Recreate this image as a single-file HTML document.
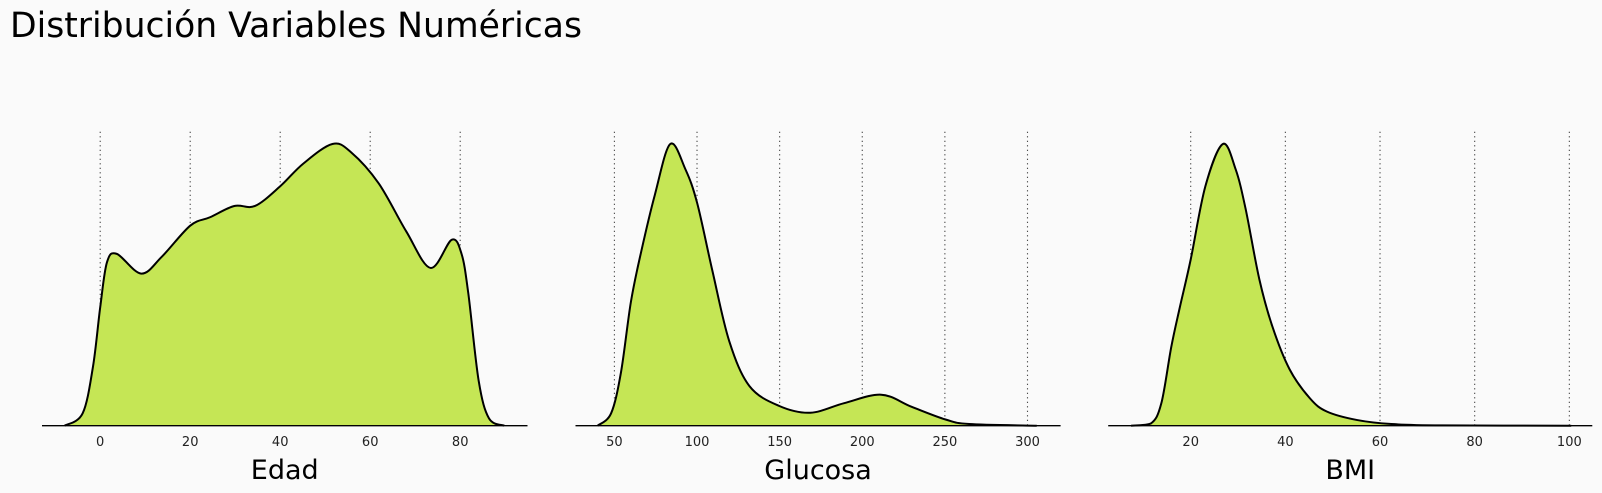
<!DOCTYPE html>
<html><head><meta charset="utf-8">
<style>
html,body{margin:0;padding:0;background:#fafafa;}
svg{display:block;font-family:"Liberation Sans","DejaVu Sans",sans-serif;}
</style></head>
<body>
<svg id="chart" width="1602" height="493" viewBox="0 0 1602 493">
<rect width="1602" height="493" fill="#fafafa"/>
<text x="10" y="37" font-size="34.6" fill="#000" font-family="DejaVu Sans, Liberation Sans, sans-serif">Distribución Variables Numéricas</text>
</svg>
<script>
// Edad
const edadX = [-7.9,-3.9,-1.6,0,1.5,3.7,9.1,13.7,20,24.4,29.8,34.4,40,45.1,51.6,55.8,61.9,68,73.4,78.1,80.3,81.8,84.1,86.4,89.8];
const edadY = [0,0.044,0.21,0.42,0.58,0.61,0.54,0.60,0.71,0.74,0.78,0.78,0.85,0.93,1.0,0.97,0.86,0.69,0.56,0.66,0.61,0.47,0.16,0.026,0];
const edadTicks = [0,20,40,60,80];
// Glucosa
const gluX = [39.8,48,54,60,66.3,74.5,83.8,93,100.1,109.3,119.5,131.8,149.8,168.6,189,211.5,229.9,250.4,264.7,305.6];
const gluY = [0,0.044,0.19,0.44,0.62,0.82,1.0,0.91,0.79,0.55,0.30,0.14,0.07,0.046,0.08,0.11,0.067,0.022,0.006,0];
const gluTicks = [50,100,150,200,250,300];
// BMI
const bmiX = [7.4,11.6,13.8,15.9,17.7,20,23.1,26.8,29.5,31.6,34.5,37.3,40.9,45.2,48.8,55.2,62.4,73,100.4];
const bmiY = [0,0.008,0.08,0.28,0.42,0.59,0.85,1.0,0.91,0.77,0.52,0.35,0.20,0.097,0.05,0.02,0.006,0.001,0];
const bmiTicks = [20,40,60,80,100];

const NS = "http://www.w3.org/2000/svg";
const svg = document.getElementById('chart');
const baseY = 425.7, topY = 144, gridTop = 131.7;

function mk(tag, attrs){const e=document.createElementNS(NS,tag);for(const k in attrs)e.setAttribute(k,attrs[k]);return e;}

function smoothPath(pts){
  let d = "M"+pts[0][0]+","+pts[0][1];
  for(let i=0;i<pts.length-1;i++){
    const p0=pts[Math.max(0,i-1)],p1=pts[i],p2=pts[i+1],p3=pts[Math.min(pts.length-1,i+2)];
    let c1y=p1[1]+(p2[1]-p0[1])/6, c2y=p2[1]-(p3[1]-p1[1])/6;
    c1y=Math.min(c1y,baseY); c2y=Math.min(c2y,baseY);
    d+=" C"+(p1[0]+(p2[0]-p0[0])/6)+","+c1y+" "+(p2[0]-(p3[0]-p1[0])/6)+","+c2y+" "+p2[0]+","+p2[1];
  }
  return d;
}

function panel(name, xs, ys, ticks, x0px, v0, pxPerUnit, axL, axR, label){
  const sx = v => x0px + (v - v0)*pxPerUnit;
  const sy = v => baseY - v*(baseY-topY);
  const g = mk('g',{});
  
  
  svg.appendChild(g);
  ticks.forEach(t=>{
    const l = mk('line',{x1:sx(t),x2:sx(t),y1:gridTop,y2:baseY,stroke:'#333','stroke-width':1.1,'stroke-dasharray':'1.2,3.3'});
    
    
    g.appendChild(l);
  });
  const pts = xs.map((x,i)=>[sx(x), sy(ys[i])]);
  const line = smoothPath(pts);
  const area = mk('path',{d: line+" L"+pts[pts.length-1][0]+","+baseY+" L"+pts[0][0]+","+baseY+" Z", fill:'#c5e655', stroke:'none'});
  
  
  g.appendChild(area);
  const stroke = mk('path',{d: line, fill:'none', stroke:'#000','stroke-width':2});
  
  
  g.appendChild(stroke);
  const ax = mk('line',{x1:axL,x2:axR,y1:baseY,y2:baseY,stroke:'#000','stroke-width':1.3});
  
  
  g.appendChild(ax);
  ticks.forEach(t=>{
    const tx = mk('text',{x:sx(t),y:446,'font-size':13,'text-anchor':'middle',fill:'#222','font-family':'DejaVu Sans, Liberation Sans, sans-serif'});
    tx.textContent = t;
    
    
    g.appendChild(tx);
  });
  const lb = mk('text',{x:(axL+axR)/2,y:479,'font-size':27,'text-anchor':'middle',fill:'#000','font-family':'DejaVu Sans, Liberation Sans, sans-serif'});
  lb.textContent = label;
  
  
  g.appendChild(lb);
}

panel('edad', edadX, edadY, edadTicks, 100.2, 0, 4.5, 42, 527.5, 'Edad');
panel('glucosa', gluX, gluY, gluTicks, 614.4, 50, 1.6524, 575.5, 1060.6, 'Glucosa');
panel('bmi', bmiX, bmiY, bmiTicks, 1190.7, 20, 4.733, 1108.2, 1592.3, 'BMI');
</script>
</body></html>
